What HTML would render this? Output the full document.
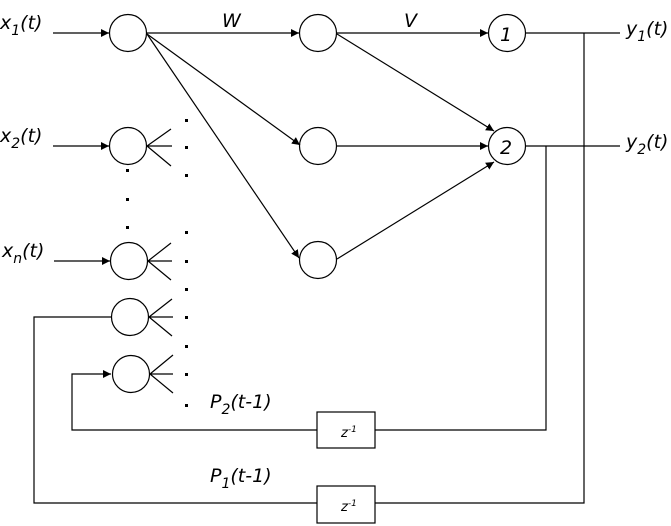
<!DOCTYPE html>
<html><head><meta charset="utf-8"><style>
html,body{margin:0;padding:0;background:#fff;}
svg{display:block;}
text{font-family:"DejaVu Sans",sans-serif;font-style:oblique;fill:#000;}
</style></head><body>
<svg width="671" height="526" viewBox="0 0 671 526" xmlns="http://www.w3.org/2000/svg">
<defs><marker id="a" viewBox="0 0 10 10" refX="10" refY="5" markerWidth="8" markerHeight="8" markerUnits="userSpaceOnUse" orient="auto"><path d="M0,0 L10,5 L0,10 z" fill="#000"/></marker></defs>
<g stroke="#000" stroke-width="1.2" fill="none">
<line x1="53" y1="33" x2="109" y2="33" marker-end="url(#a)"/>
<line x1="53" y1="146" x2="109" y2="146" marker-end="url(#a)"/>
<line x1="54" y1="261" x2="110" y2="261" marker-end="url(#a)"/>
<circle cx="128" cy="33" r="18.5"/>
<circle cx="128" cy="146" r="18.5"/>
<circle cx="129" cy="261" r="18.5"/>
<circle cx="130" cy="317" r="18.5"/>
<circle cx="131" cy="374" r="18.5"/>
<path d="M147,146 L171,129 M147,146 L172,146 M147,146 L171,166"/>
<path d="M148,261 L171,243 M148,261 L172,261 M148,261 L171,280"/>
<path d="M149,317 L172,299 M149,317 L173,317 M149,317 L172,336"/>
<path d="M150,374 L173,355 M150,374 L173,374 M150,374 L173,393"/>
<circle cx="318" cy="33" r="18.5"/>
<circle cx="318" cy="146" r="18.5"/>
<circle cx="318" cy="260" r="18.5"/>
<line x1="147" y1="33" x2="299" y2="33" marker-end="url(#a)"/>
<line x1="147" y1="34" x2="300" y2="145" marker-end="url(#a)"/>
<line x1="147" y1="34" x2="299" y2="258" marker-end="url(#a)"/>
<circle cx="507" cy="33" r="18.5"/>
<circle cx="507" cy="146" r="18.5"/>
<line x1="337" y1="33" x2="488" y2="33" marker-end="url(#a)"/>
<line x1="337" y1="34" x2="494" y2="131" marker-end="url(#a)"/>
<line x1="337" y1="146" x2="488" y2="146" marker-end="url(#a)"/>
<line x1="337" y1="259" x2="494" y2="162" marker-end="url(#a)"/>
<line x1="526" y1="33" x2="620" y2="33"/>
<line x1="526" y1="146" x2="620" y2="146"/>
<polyline points="546,146 546,430 375,430"/>
<polyline points="317,430 72,430 72,374 111,374" marker-end="url(#a)"/>
<rect x="317" y="412" width="58" height="36"/>
<polyline points="584,33 584,503 375,503"/>
<polyline points="317,503 34,503 34,317 112,317"/>
<rect x="317" y="486" width="58" height="37"/>
</g>
<g fill="#000">
<rect x="185" y="119" width="3" height="3"/><rect x="185" y="146" width="3" height="3"/><rect x="185" y="174" width="3" height="3"/>
<rect x="185" y="231" width="3" height="3"/><rect x="185" y="260" width="3" height="3"/><rect x="185" y="288" width="3" height="3"/>
<rect x="185" y="316" width="3" height="3"/><rect x="185" y="345" width="3" height="3"/><rect x="185" y="373" width="3" height="3"/><rect x="185" y="404" width="3" height="3"/>
<rect x="126" y="169" width="3" height="3"/><rect x="126" y="198" width="3" height="3"/><rect x="126" y="226" width="3" height="3"/>
</g>
<g font-size="19">
<text x="0" y="29">x<tspan font-size="14" dy="6">1</tspan><tspan dy="-6">(t)</tspan></text>
<text x="0" y="142">x<tspan font-size="14" dy="6">2</tspan><tspan dy="-6">(t)</tspan></text>
<text x="2" y="257">x<tspan font-size="14" dy="6">n</tspan><tspan dy="-6">(t)</tspan></text>
<text x="222" y="27">W</text>
<text x="404" y="27">V</text>
<text x="500" y="41">1</text>
<text x="500" y="154">2</text>
<text x="626" y="35">y<tspan font-size="14" dy="6">1</tspan><tspan dy="-6">(t)</tspan></text>
<text x="626" y="148">y<tspan font-size="14" dy="6">2</tspan><tspan dy="-6">(t)</tspan></text>
<text x="210" y="408">P<tspan font-size="14" dy="6">2</tspan><tspan dy="-6">(t-1)</tspan></text>
<text x="210" y="482">P<tspan font-size="14" dy="6">1</tspan><tspan dy="-6">(t-1)</tspan></text>
</g>
<g font-size="13" style="font-family:'Liberation Serif',serif;font-style:italic">
<text x="341" y="437">z<tspan font-size="9" dy="-5">-1</tspan></text>
<text x="341" y="511">z<tspan font-size="9" dy="-5">-1</tspan></text>
</g>
</svg>
</body></html>
